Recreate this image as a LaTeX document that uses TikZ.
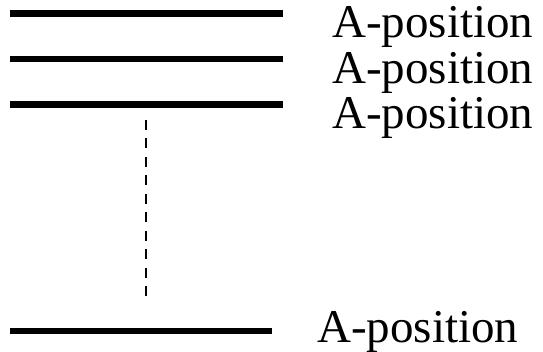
\documentclass[tikz,border=0pt]{standalone}
\usepackage{fontspec}
\setmainfont{Liberation Serif}

\begin{document}
\begin{tikzpicture}[x=1pt,y=-1pt]
    \useasboundingbox (0,0) rectangle (543,352);
    \tikzset{slot/.style={anchor=base west,inner sep=0pt,font=\fontsize{47}{50}\selectfont}}
    \node[slot] (p1) at (332,38) {A-position};
    \node[slot] (p2) at (332,83.5) {A-position};
    \node[slot] (p3) at (332,129) {A-position};
    \node[slot] (p4) at (317,342) {A-position};
    \draw[line width=6.5pt] (10,13.5) -- (283,13.5);
    \draw[line width=6.5pt] (10,59) -- (283,59);
    \draw[line width=6.5pt] (10,104.5) -- (283,104.5);
    \draw[line width=6pt] (10,331) -- (272,331);
    \coordinate (d1) at (146,120);
    \coordinate (d2) at (146,298);
    \draw[line width=2pt,dash pattern=on 10pt off 8.5pt] (d1) -- (d2);
\end{tikzpicture}
\end{document}
